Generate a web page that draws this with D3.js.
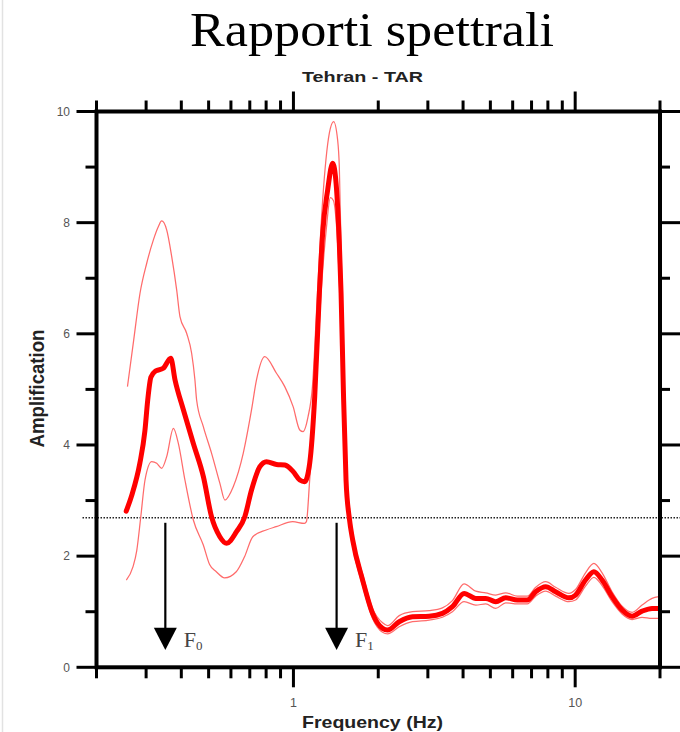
<!DOCTYPE html>
<html><head><meta charset="utf-8">
<script src="https://cdn.jsdelivr.net/npm/d3@7/dist/d3.min.js"></script>
<style>html,body{margin:0;padding:0;background:#fff;}svg{display:block;}</style>
</head><body>
<script>
// ---- data ----
const titleText = "Rapporti spettrali";
const subtitleText = "Tehran - TAR";
const xLabel = "Frequency (Hz)";
const yLabel = "Amplification";

const meanFreq = [0.255,0.267,0.285,0.297,0.304,0.312,0.324,0.345,0.367,0.380,0.407,0.441,0.479,0.512,0.548,0.579,0.628,0.672,0.710,0.760,0.802,0.871,0.932,0.998,1.053,1.096,1.142,1.190,1.236,1.270,1.323,1.378,1.417,1.455,1.476,1.504,1.537,1.579,1.623,1.760,1.909,2.072,2.158,2.374,2.646,3.032,3.380,3.667,4.034,4.438,4.815,5.224,5.668,6.232,6.760,7.240,7.856,8.522,9.500,10.03,10.88,11.65,12.46,13.52,14.67,15.92,17.27,18.74,19.80];
const meanAmp = [2.81,3.10,3.67,4.25,4.81,5.22,5.33,5.38,5.56,5.17,4.63,4.03,3.43,2.71,2.35,2.23,2.44,2.71,3.19,3.61,3.70,3.65,3.64,3.52,3.37,3.34,3.67,4.87,6.73,7.81,8.59,9.07,8.71,7.63,6.73,4.99,3.37,2.68,2.29,1.57,0.97,0.70,0.67,0.82,0.91,0.92,0.97,1.09,1.33,1.24,1.24,1.18,1.25,1.21,1.21,1.36,1.45,1.36,1.25,1.30,1.57,1.72,1.57,1.27,1.03,0.92,1.01,1.06,1.06];

const upperFreq = [0.2576,0.2711,0.2854,0.3015,0.3184,0.3317,0.3406,0.3549,0.3698,0.3851,0.3956,0.4178,0.4352,0.4471,0.4533,0.4788,0.5123,0.5483,0.5710,0.6115,0.6634,0.7099,0.7394,0.7912,0.8705,0.9315,0.9975,1.053,1.082,1.127,1.168,1.216,1.270,1.341,1.389,1.435,1.455,1.479,1.515,1.541,1.592,1.623,1.760,1.909,2.072,2.158,2.374,2.646,3.032,3.380,3.667,4.034,4.438,4.815,5.224,5.668,6.232,6.760,7.240,7.856,8.522,9.500,10.03,10.88,11.65,12.46,13.52,14.67,15.92,17.27,18.74,19.80];
const upperAmp = [5.05,5.89,6.73,7.27,7.69,7.93,8.03,7.87,7.39,6.79,6.31,6.01,5.65,5.17,4.81,4.33,3.85,3.31,3.01,3.25,3.85,4.63,5.17,5.59,5.29,5.05,4.69,4.27,4.24,4.51,5.05,6.70,8.41,9.61,9.82,9.49,9.00,7.33,5.20,3.45,2.75,2.40,1.68,1.06,0.80,0.75,0.93,1.00,1.02,1.07,1.20,1.50,1.37,1.34,1.30,1.34,1.28,1.28,1.44,1.54,1.44,1.33,1.40,1.70,1.87,1.70,1.36,1.10,0.99,1.12,1.24,1.27];

const lowerFreq = [0.2552,0.2696,0.2779,0.2871,0.2973,0.3141,0.3271,0.3406,0.3549,0.3749,0.3904,0.4120,0.4413,0.4788,0.5040,0.5324,0.5697,0.6267,0.6706,0.7176,0.8003,0.8684,0.9943,1.094,1.112,1.142,1.190,1.256,1.309,1.352,1.386,1.432,1.467,1.516,1.537,1.579,1.623,1.760,1.909,2.072,2.158,2.374,2.646,3.032,3.380,3.667,4.034,4.438,4.815,5.224,5.668,6.232,6.760,7.240,7.856,8.522,9.500,10.03,10.88,11.65,12.46,13.52,14.67,15.92,17.27,18.74,19.80];
const lowerAmp = [1.57,1.81,2.10,2.70,3.37,3.70,3.67,3.58,3.79,4.30,4.03,3.37,2.65,2.20,1.85,1.72,1.61,1.72,1.99,2.35,2.47,2.53,2.62,2.59,2.62,3.37,4.57,6.80,7.90,8.45,8.40,7.70,6.50,4.30,3.20,2.60,2.18,1.47,0.88,0.63,0.60,0.73,0.82,0.85,0.90,1.00,1.18,1.12,1.14,1.06,1.16,1.14,1.14,1.28,1.37,1.28,1.18,1.21,1.46,1.62,1.47,1.18,0.96,0.86,0.90,0.88,0.88];

const xMajorTicks = [1, 10];
const xMinorTicks = [0.2,0.3,0.4,0.5,0.6,0.7,0.8,0.9,2,3,4,5,6,7,8,9,20];
const xTickLabels = ["1", "10"];
const yMajorTicks = [0,2,4,6,8,10];
const yMinorTicks = [1,3,5,7,9];
const yTickLabels = ["0","2","4","6","8","10"];
const thresholdLevel = 2.69;
const markerFreqs = [0.351, 1.423];
const markerNames = ["F", "F"];
const markerSubs = ["0", "1"];
const arrowTop = 2.6, arrowHeadTop = 0.71, arrowTip = 0.31;

// ---- layout ----
const W = 680, H = 732;
const L = 96.5, R = 660, T = 111.5, B = 667.3;
const svg = d3.select("body").append("svg").attr("width", W).attr("height", H);

const x = d3.scaleLog().domain([0.2, 20]).range([L, R]);
const y = d3.scaleLinear().domain([0, 10]).range([B, T]);

// faint page border at left
svg.append("line").attr("x1", 2.5).attr("x2", 2.5).attr("y1", 0).attr("y2", H)
  .attr("stroke", "#e2e2e2").attr("stroke-width", 1.5);

// title
svg.append("text").attr("x", 372).attr("y", 46).attr("text-anchor", "middle")
  .attr("font-family", "'Liberation Serif', 'Times New Roman', serif").attr("font-size", 49)
  .attr("textLength", 364).attr("lengthAdjust", "spacingAndGlyphs")
  .attr("fill", "#000").text(titleText);
svg.append("text").attr("x", 362.5).attr("y", 82).attr("text-anchor", "middle")
  .attr("font-family", "'Liberation Sans', Arial, sans-serif").attr("font-weight", "bold").attr("font-size", 14)
  .attr("textLength", 121).attr("lengthAdjust", "spacingAndGlyphs")
  .attr("fill", "#222").text(subtitleText);

// threshold dotted line
svg.append("line").attr("x1", L - 14).attr("x2", W).attr("y1", y(thresholdLevel)).attr("y2", y(thresholdLevel))
  .attr("stroke", "#222").attr("stroke-width", 1.5).attr("stroke-dasharray", "1.5,1.5");

// curves
const line = d3.line().x(d => x(d[0])).y(d => y(d[1])).curve(d3.curveMonotoneX);
const zip = (a, b) => a.map((v, i) => [v, b[i]]);
const g = svg.append("g");
g.append("path").datum(zip(upperFreq, upperAmp)).attr("d", line)
  .attr("fill", "none").attr("stroke", "#ff6b6b").attr("stroke-width", 1.25);
g.append("path").datum(zip(lowerFreq, lowerAmp)).attr("d", line)
  .attr("fill", "none").attr("stroke", "#ff6b6b").attr("stroke-width", 1.25);
g.append("path").datum(zip(meanFreq, meanAmp)).attr("d", line)
  .attr("fill", "none").attr("stroke", "#ff0000").attr("stroke-width", 5)
  .attr("stroke-linejoin", "round").attr("stroke-linecap", "round");

// arrows and labels
markerFreqs.forEach((f, i) => {
  const cx = x(f);
  svg.append("line").attr("x1", cx).attr("x2", cx).attr("y1", y(arrowTop)).attr("y2", y(arrowHeadTop) + 1)
    .attr("stroke", "#000").attr("stroke-width", 2.2);
  svg.append("path").attr("d", `M${cx - 11.5},${y(arrowHeadTop)} L${cx + 11.5},${y(arrowHeadTop)} L${cx},${y(arrowTip)} Z`)
    .attr("fill", "#000");
  const t = svg.append("text").attr("x", cx + 18.5).attr("y", 646.5)
    .attr("font-family", "'Liberation Serif', 'Times New Roman', serif").attr("font-size", 22).attr("fill", "#444");
  t.append("tspan").text(markerNames[i]);
  t.append("tspan").attr("font-size", 13).attr("dy", 3).text(markerSubs[i]);
});

// frame
const frame = svg.append("g").attr("stroke", "#000").attr("stroke-linecap", "square");
frame.append("rect").attr("x", L).attr("y", T).attr("width", R - L).attr("height", B - T)
  .attr("fill", "none").attr("stroke-width", 4);

// ticks
const tk = svg.append("g").attr("stroke", "#000").attr("stroke-width", 3);
xMinorTicks.forEach(v => {
  tk.append("line").attr("x1", x(v)).attr("x2", x(v)).attr("y1", B).attr("y2", B + 11);
  tk.append("line").attr("x1", x(v)).attr("x2", x(v)).attr("y1", T).attr("y2", T - 11);
});
xMajorTicks.forEach(v => {
  tk.append("line").attr("x1", x(v)).attr("x2", x(v)).attr("y1", B).attr("y2", B + 20);
  tk.append("line").attr("x1", x(v)).attr("x2", x(v)).attr("y1", T).attr("y2", T - 20);
});
yMinorTicks.forEach(v => {
  tk.append("line").attr("x1", L).attr("x2", L - 11).attr("y1", y(v)).attr("y2", y(v));
  tk.append("line").attr("x1", R).attr("x2", R + 10).attr("y1", y(v)).attr("y2", y(v));
});
yMajorTicks.forEach(v => {
  tk.append("line").attr("x1", L).attr("x2", L - 20).attr("y1", y(v)).attr("y2", y(v));
  tk.append("line").attr("x1", R).attr("x2", R + 20).attr("y1", y(v)).attr("y2", y(v));
});

// tick labels
const lblFont = "'Liberation Sans', Arial, sans-serif";
yMajorTicks.forEach((v, i) => {
  svg.append("text").attr("x", 70).attr("y", y(v)).attr("dy", "0.36em").attr("text-anchor", "end")
    .attr("font-family", lblFont).attr("font-size", 12).attr("fill", "#555").text(yTickLabels[i]);
});
xMajorTicks.forEach((v, i) => {
  svg.append("text").attr("x", x(v)).attr("y", 707).attr("text-anchor", "middle")
    .attr("font-family", lblFont).attr("font-size", 12.5).attr("fill", "#555").text(xTickLabels[i]);
});

// axis titles
svg.append("text").attr("x", 372.5).attr("y", 728).attr("text-anchor", "middle")
  .attr("font-family", lblFont).attr("font-weight", "bold").attr("font-size", 17)
  .attr("textLength", 141).attr("lengthAdjust", "spacingAndGlyphs").attr("fill", "#222").text(xLabel);
svg.append("text").attr("transform", "translate(43.5,388.5) scale(1.2,1) rotate(-90)")
  .attr("text-anchor", "middle")
  .attr("font-family", lblFont).attr("font-weight", "bold").attr("font-size", 17)
  .attr("textLength", 118).attr("lengthAdjust", "spacingAndGlyphs").attr("fill", "#222").text(yLabel);
</script>
</body></html>
